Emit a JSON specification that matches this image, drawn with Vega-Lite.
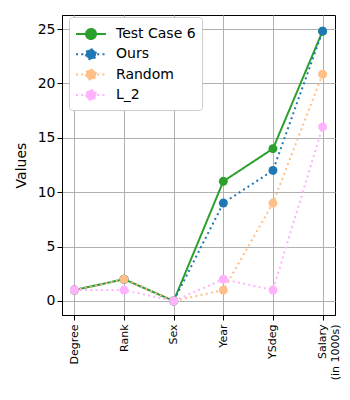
{
  "$schema": "https://vega.github.io/schema/vega-lite/v6.json",
  "width": 273,
  "height": 300,
  "autosize": "none",
  "padding": {"left": 62, "top": 15, "right": 15, "bottom": 85},
  "background": "white",
  "config": {
    "font": "DejaVu Sans",
    "view": {"stroke": "black", "strokeWidth": 1},
    "axis": {
      "domainColor": "black", "tickColor": "black", "tickSize": 5, "labelColor": "black",
      "gridColor": "#b0b0b0", "gridWidth": 1, "titleFontWeight": "normal", "titleColor": "black"
    }
  },
  "data": {
    "values": [
      {"series": "Test Case 6", "feature": "Degree", "value": 1},
      {"series": "Test Case 6", "feature": "Rank", "value": 2},
      {"series": "Test Case 6", "feature": "Sex", "value": 0},
      {"series": "Test Case 6", "feature": "Year", "value": 11},
      {"series": "Test Case 6", "feature": "YSdeg", "value": 14},
      {"series": "Test Case 6", "feature": "Salary (in 1000s)", "value": 24.8},
      {"series": "Ours", "feature": "Degree", "value": 1},
      {"series": "Ours", "feature": "Rank", "value": 2},
      {"series": "Ours", "feature": "Sex", "value": 0},
      {"series": "Ours", "feature": "Year", "value": 9},
      {"series": "Ours", "feature": "YSdeg", "value": 12},
      {"series": "Ours", "feature": "Salary (in 1000s)", "value": 24.8},
      {"series": "Random", "feature": "Degree", "value": 1},
      {"series": "Random", "feature": "Rank", "value": 2},
      {"series": "Random", "feature": "Sex", "value": 0},
      {"series": "Random", "feature": "Year", "value": 1},
      {"series": "Random", "feature": "YSdeg", "value": 9},
      {"series": "Random", "feature": "Salary (in 1000s)", "value": 20.85},
      {"series": "L_2", "feature": "Degree", "value": 1},
      {"series": "L_2", "feature": "Rank", "value": 1},
      {"series": "L_2", "feature": "Sex", "value": 0},
      {"series": "L_2", "feature": "Year", "value": 2},
      {"series": "L_2", "feature": "YSdeg", "value": 1},
      {"series": "L_2", "feature": "Salary (in 1000s)", "value": 16}
    ]
  },
  "encoding": {
    "x": {
      "field": "feature", "type": "ordinal",
      "sort": ["Degree", "Rank", "Sex", "Year", "YSdeg", "Salary (in 1000s)"],
      "scale": {"type": "point", "padding": 0.25},
      "axis": {
        "title": null, "labelAngle": -90, "labelFontSize": 11, "labelPadding": 4, "grid": true,
        "labelExpr": "datum.label == 'Salary (in 1000s)' ? ['Salary', '(in 1000s)'] : datum.label"
      }
    },
    "y": {
      "field": "value", "type": "quantitative",
      "scale": {"domain": [-1.29, 26.29], "nice": false, "zero": false},
      "axis": {"title": "Values", "titleFontSize": 14, "labelFontSize": 14, "values": [0, 5, 10, 15, 20, 25], "grid": true, "titlePadding": 9}
    },
    "color": {
      "field": "series", "type": "nominal",
      "scale": {"domain": ["Test Case 6", "Ours", "Random", "L_2"], "range": ["#2ca02c", "#1f77b4", "#ffbf86", "#ffb3ff"]},
      "legend": {
        "title": null, "orient": "none", "legendX": 7, "legendY": 2,
        "labelFontSize": 14, "labelColor": "black", "labelOffset": 19,
        "symbolType": "M-1,0H2M0,0a0.5,0.5 0 1,0 1,0a0.5,0.5 0 1,0 -1,0",
        "symbolSize": 400, "symbolStrokeWidth": 2, "symbolOpacity": 1,
        "fillColor": "white", "strokeColor": "#cccccc", "cornerRadius": 3,
        "padding": 6, "rowPadding": 0.3
      }
    }
  },
  "layer": [
    {
      "mark": {"type": "line", "strokeWidth": 2},
      "encoding": {
        "strokeDash": {
          "field": "series", "type": "nominal",
          "scale": {"domain": ["Test Case 6", "Ours", "Random", "L_2"], "range": [[1, 0], [2, 3.3], [2, 3.3], [2, 3.3]]},
          "legend": null
        }
      }
    },
    {
      "mark": {"type": "point", "filled": true, "size": 80, "opacity": 1}
    }
  ]
}
